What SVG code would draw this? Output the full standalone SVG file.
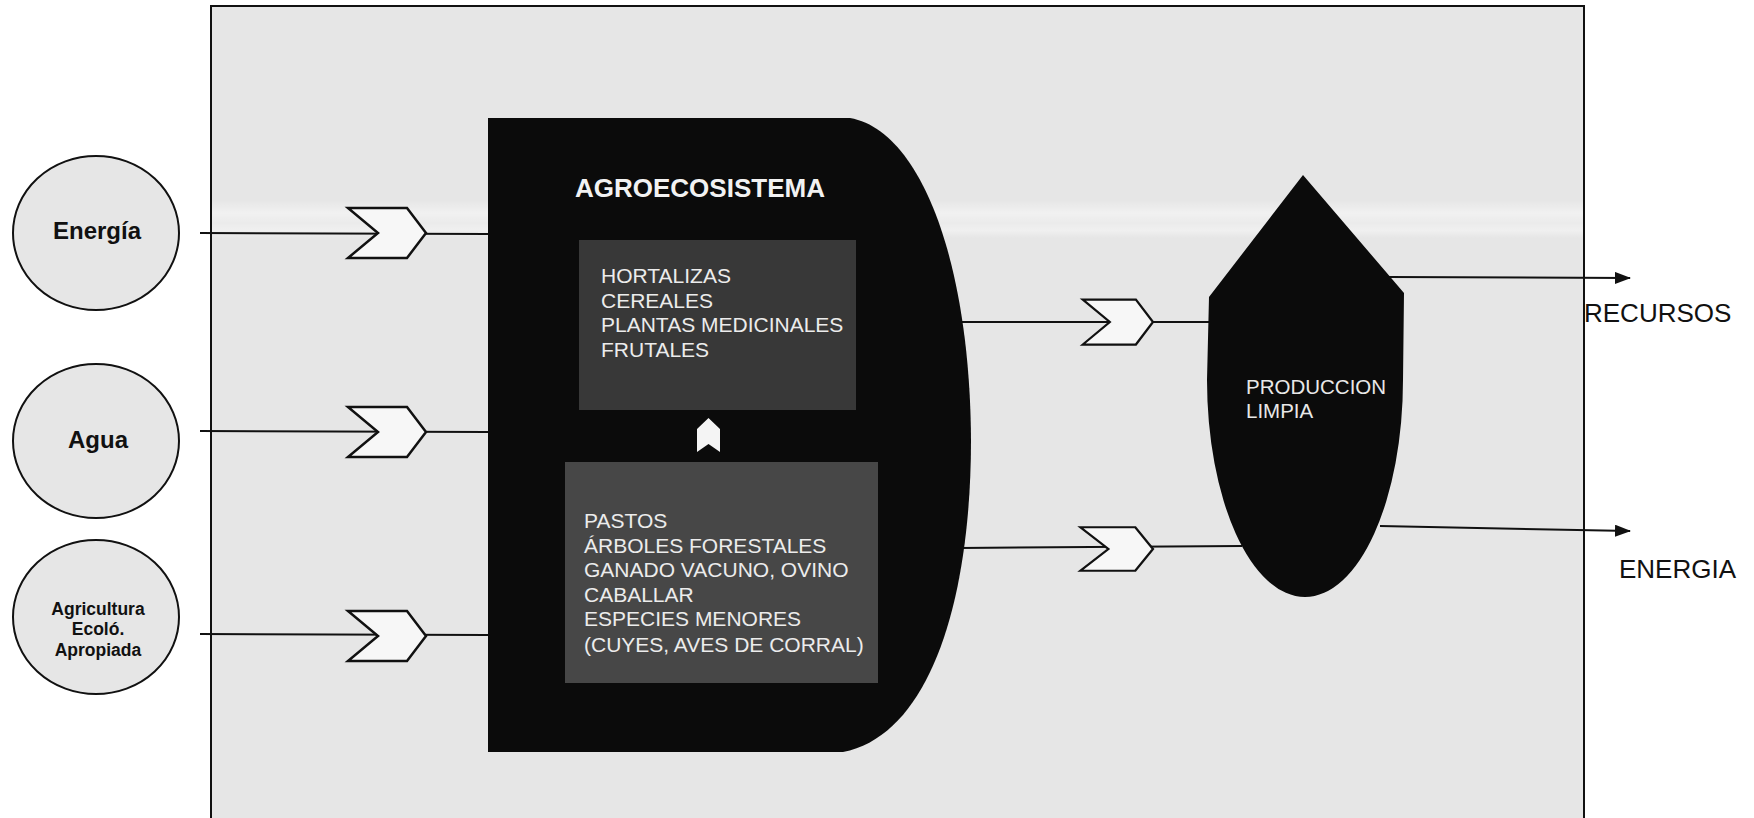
<svg xmlns="http://www.w3.org/2000/svg" width="1754" height="818" viewBox="0 0 1754 818">
  <style>
    .t { font-family: "Liberation Sans", Arial, sans-serif; }
    .circ { fill: #e6e6e6; stroke: #111; stroke-width: 2; }
    .ctext { font-family: "Liberation Sans", Arial, sans-serif; font-weight: bold; fill: #111; text-anchor: middle; }
    .chev { fill: #f7f7f7; stroke: #111; stroke-width: 2.5; stroke-linejoin: miter; }
    .conn { stroke: #111; stroke-width: 2; fill: none; }
    .inner { font-family: "Liberation Sans", Arial, sans-serif; font-size: 21px; fill: #ececec; }
    .out { font-family: "Liberation Sans", Arial, sans-serif; font-size: 26px; fill: #111; }
  </style>
  <defs>
    <path id="chevron" d="M-78,-25 L-19,-25 L0,0 L-19,25 L-78,25 L-48,0 Z"/>
    <marker id="arrow" viewBox="0 0 16 12" refX="15" refY="6" markerWidth="16" markerHeight="12" markerUnits="userSpaceOnUse" orient="auto">
      <path d="M0,0 L16,6 L0,12 Z" fill="#111"/>
    </marker>
    <linearGradient id="band" x1="0" y1="0" x2="0" y2="1">
      <stop offset="0" stop-color="#ffffff" stop-opacity="0"/>
      <stop offset="0.35" stop-color="#ffffff" stop-opacity="0.45"/>
      <stop offset="0.6" stop-color="#ffffff" stop-opacity="0.2"/>
      <stop offset="0.8" stop-color="#ffffff" stop-opacity="0.4"/>
      <stop offset="1" stop-color="#ffffff" stop-opacity="0"/>
    </linearGradient>
  </defs>

  <rect x="0" y="0" width="1754" height="818" fill="#ffffff"/>

  <g id="frame">
    <rect x="211" y="6" width="1373" height="820" fill="#e6e6e6" stroke="#111" stroke-width="2"/>
    <rect x="212" y="200" width="1371" height="38" fill="url(#band)"/>
  </g>

  <g id="connectors">
    <line class="conn" x1="200" y1="233" x2="488" y2="234"/>
    <line class="conn" x1="200" y1="431" x2="488" y2="432"/>
    <line class="conn" x1="200" y1="634" x2="488" y2="635"/>
    <line class="conn" x1="960" y1="322" x2="1210" y2="322"/>
    <line class="conn" x1="960" y1="548" x2="1242" y2="546"/>
    <line class="conn" x1="1388" y1="277" x2="1630" y2="278" marker-end="url(#arrow)"/>
    <line class="conn" x1="1380" y1="526" x2="1630" y2="531" marker-end="url(#arrow)"/>
    <use href="#chevron" class="chev" transform="translate(426,233)"/>
    <use href="#chevron" class="chev" transform="translate(426,432)"/>
    <use href="#chevron" class="chev" transform="translate(426,636)"/>
    <use href="#chevron" class="chev" transform="translate(1153,322) scale(0.9)"/>
    <use href="#chevron" class="chev" transform="translate(1153,549) scale(0.93,0.87)"/>
  </g>

  <g id="node-energia">
    <ellipse class="circ" cx="96" cy="233" rx="83" ry="77"/>
    <text class="ctext" x="97" y="239" font-size="24">Energía</text>
  </g>

  <g id="node-agua">
    <ellipse class="circ" cx="96" cy="441" rx="83" ry="77"/>
    <text class="ctext" x="98" y="448" font-size="24">Agua</text>
  </g>

  <g id="node-agricultura">
    <ellipse class="circ" cx="96" cy="617" rx="83" ry="77"/>
    <text class="ctext" x="98" y="615" font-size="17.5">Agricultura</text>
    <text class="ctext" x="98" y="635" font-size="17.5">Ecoló.</text>
    <text class="ctext" x="98" y="656" font-size="17.5">Apropiada</text>
  </g>

  <g id="node-agroecosistema">
    <path d="M488,118 L850,118 C920,130 970,260 971,440 C971,600 930,735 843,752 L488,752 Z" fill="#0b0b0b"/>
    <text class="t" x="575" y="197" font-size="26" font-weight="bold" fill="#f2f2f2">AGROECOSISTEMA</text>
    <g id="box-cultivos">
      <rect x="579" y="240" width="277" height="170" fill="#383838"/>
      <text class="inner" x="601" y="283">HORTALIZAS</text>
      <text class="inner" x="601" y="308">CEREALES</text>
      <text class="inner" x="601" y="332">PLANTAS MEDICINALES</text>
      <text class="inner" x="601" y="357">FRUTALES</text>
    </g>
    <polygon points="708.5,418 720,429 720,452 708.5,444 697,452 697,429" fill="#f4f4f4"/>
    <g id="box-pecuario">
      <rect x="565" y="462" width="313" height="221" fill="#474747"/>
      <text class="inner" x="584" y="528">PASTOS</text>
      <text class="inner" x="584" y="553">ÁRBOLES FORESTALES</text>
      <text class="inner" x="584" y="577">GANADO VACUNO, OVINO</text>
      <text class="inner" x="584" y="602">CABALLAR</text>
      <text class="inner" x="584" y="626">ESPECIES MENORES</text>
      <text class="inner" x="584" y="652">(CUYES, AVES DE CORRAL)</text>
    </g>
  </g>

  <g id="node-produccion">
    <path d="M1303,175 L1404,293 L1403,380 A98,217 0 0 1 1207,380 L1209,297 Z" fill="#0b0b0b"/>
    <text class="t" x="1246" y="394" font-size="20.5" fill="#e8e8e8">PRODUCCION</text>
    <text class="t" x="1246" y="418" font-size="20.5" fill="#e8e8e8">LIMPIA</text>
  </g>

  <g id="label-recursos">
    <text class="out" x="1584" y="322">RECURSOS</text>
  </g>
  <g id="label-energia-out">
    <text class="out" x="1619" y="578">ENERGIA</text>
  </g>
</svg>
